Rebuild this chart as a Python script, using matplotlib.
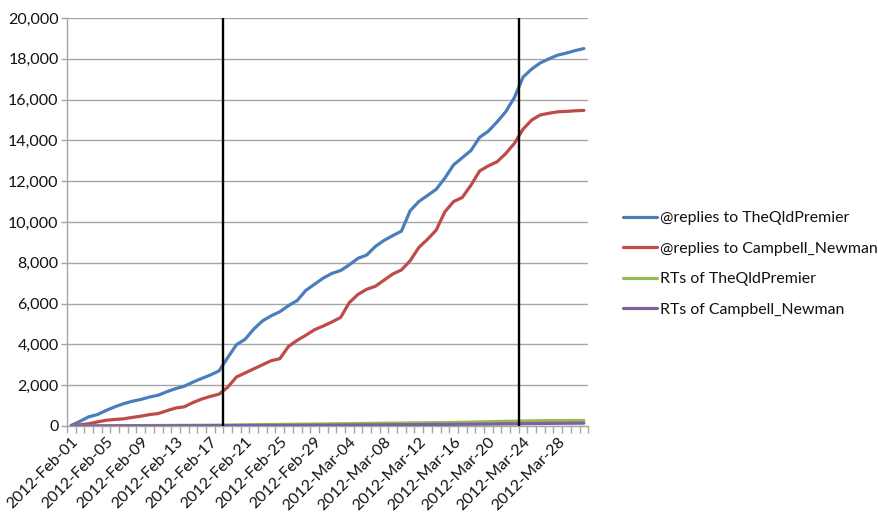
import numpy as np
import pandas as pd
import matplotlib
matplotlib.use("Agg")
import matplotlib.pyplot as plt
from matplotlib.ticker import FuncFormatter, MultipleLocator
from matplotlib.transforms import ScaledTranslation

plt.rcParams['font.family'] = ['Lato', 'DejaVu Sans']

# Daily categories, 1 Feb - 31 Mar 2012
dates = pd.date_range("2012-02-01", "2012-03-31", freq="D")
day_labels = [d.strftime("%Y-%b-%d") for d in dates]

# Cumulative counts per day
replies_qldpremier = [
    30, 230, 450, 560, 760, 940, 1090, 1210, 1300, 1420,
    1510, 1680, 1830, 1950, 2150, 2330, 2500, 2700, 3350, 3980,
    4250, 4750, 5150, 5400, 5600, 5900, 6150, 6650, 6950, 7250,
    7480, 7620, 7900, 8220, 8380, 8800, 9100, 9330, 9550, 10550,
    11000, 11300, 11600, 12150, 12800, 13150, 13500, 14150, 14450, 14900,
    15400, 16100, 17100, 17500, 17800, 18000, 18180, 18280, 18400, 18500,
]
replies_newman = [
    20, 60, 110, 200, 280, 320, 350, 420, 480, 560,
    610, 750, 880, 940, 1150, 1320, 1450, 1560, 1900, 2400,
    2600, 2800, 3000, 3200, 3300, 3900, 4200, 4450, 4720, 4900,
    5100, 5320, 6050, 6450, 6700, 6850, 7150, 7450, 7650, 8100,
    8750, 9150, 9600, 10500, 11000, 11200, 11800, 12500, 12750, 12950,
    13350, 13850, 14550, 15000, 15250, 15330, 15400, 15420, 15450, 15470,
]
rts_qldpremier = [
    0, 2, 5, 8, 10, 12, 15, 18, 20, 22,
    25, 27, 30, 32, 35, 37, 40, 42, 45, 55,
    60, 65, 70, 75, 78, 82, 86, 90, 95, 100,
    105, 110, 115, 120, 125, 130, 135, 140, 145, 150,
    155, 160, 165, 170, 175, 180, 190, 200, 210, 220,
    228, 235, 245, 252, 258, 262, 265, 268, 270, 272,
]
rts_newman = [
    0, 1, 2, 3, 4, 5, 6, 7, 8, 9,
    10, 11, 12, 13, 14, 15, 16, 17, 18, 20,
    22, 24, 26, 28, 30, 32, 34, 36, 38, 40,
    42, 44, 46, 48, 50, 53, 56, 59, 62, 65,
    68, 71, 74, 77, 80, 84, 88, 92, 96, 100,
    104, 108, 115, 120, 125, 128, 131, 134, 137, 140,
]

series_names = [
    "@replies to TheQldPremier",
    "@replies to Campbell_Newman",
    "RTs of TheQldPremier",
    "RTs of Campbell_Newman",
]
series_colors = ["#4A7EBB", "#BE4B48", "#98B954", "#7D60A0"]

# Election called / polling day
event_days = ["2012-Feb-19", "2012-Mar-24"]

fig = plt.figure(figsize=(8.79, 5.13), dpi=100)
ax = fig.add_axes([0.0762, 0.1696, 0.593, 0.7954])

x = np.arange(len(dates))
for vals, name, col in zip(
    [replies_qldpremier, replies_newman, rts_qldpremier, rts_newman],
    series_names, series_colors,
):
    ax.plot(x, vals, color=col, lw=2.3, label=name, solid_capstyle="round",
            solid_joinstyle="round", zorder=3)

# Event markers sit near the category boundary at the start of the day
for d in event_days:
    ax.axvline(day_labels.index(d) - 0.5, color="black", lw=1.7, zorder=4)

ax.set_xlim(-0.5, len(dates) - 0.5)
ax.set_ylim(0, 20000)
ax.yaxis.set_major_locator(MultipleLocator(2000))
ax.yaxis.set_major_formatter(FuncFormatter(lambda v, p: f"{int(v):,}"))
ax.grid(axis="y", color="#A6A6A6", lw=1.0, zorder=0)

ax.set_xticks(x[::4])
ax.set_xticklabels(day_labels[::4], rotation=45, ha="right",
                   rotation_mode="anchor", fontsize=11.5, color="#111111")
shift = ScaledTranslation(5 / 100, 0, fig.dpi_scale_trans)
for lab in ax.get_xticklabels():
    lab.set_transform(lab.get_transform() + shift)
ax.set_xticks(np.arange(-0.5, len(dates), 1), minor=True)
ax.tick_params(axis="x", which="major", length=0, pad=6)
ax.tick_params(axis="x", which="minor", length=5, color="#A6A6A6", width=1)
ax.tick_params(axis="y", length=4, color="#A6A6A6", width=1, labelsize=11.5,
               pad=2, labelcolor="#111111")

for s in ["top", "right"]:
    ax.spines[s].set_visible(False)
for s in ["left", "bottom"]:
    ax.spines[s].set_color("#A6A6A6")
    ax.spines[s].set_linewidth(1.0)

leg = fig.legend(loc="upper left", bbox_to_anchor=(623 / 879, 1 - 211 / 513),
                 frameon=False, borderpad=0, borderaxespad=0,
                 fontsize=11.4, handlelength=2.15, handletextpad=0.2,
                 labelspacing=1.04)
for t in leg.get_texts():
    t.set_color("#111111")

fig.savefig("out.png", dpi=100, facecolor="white")
